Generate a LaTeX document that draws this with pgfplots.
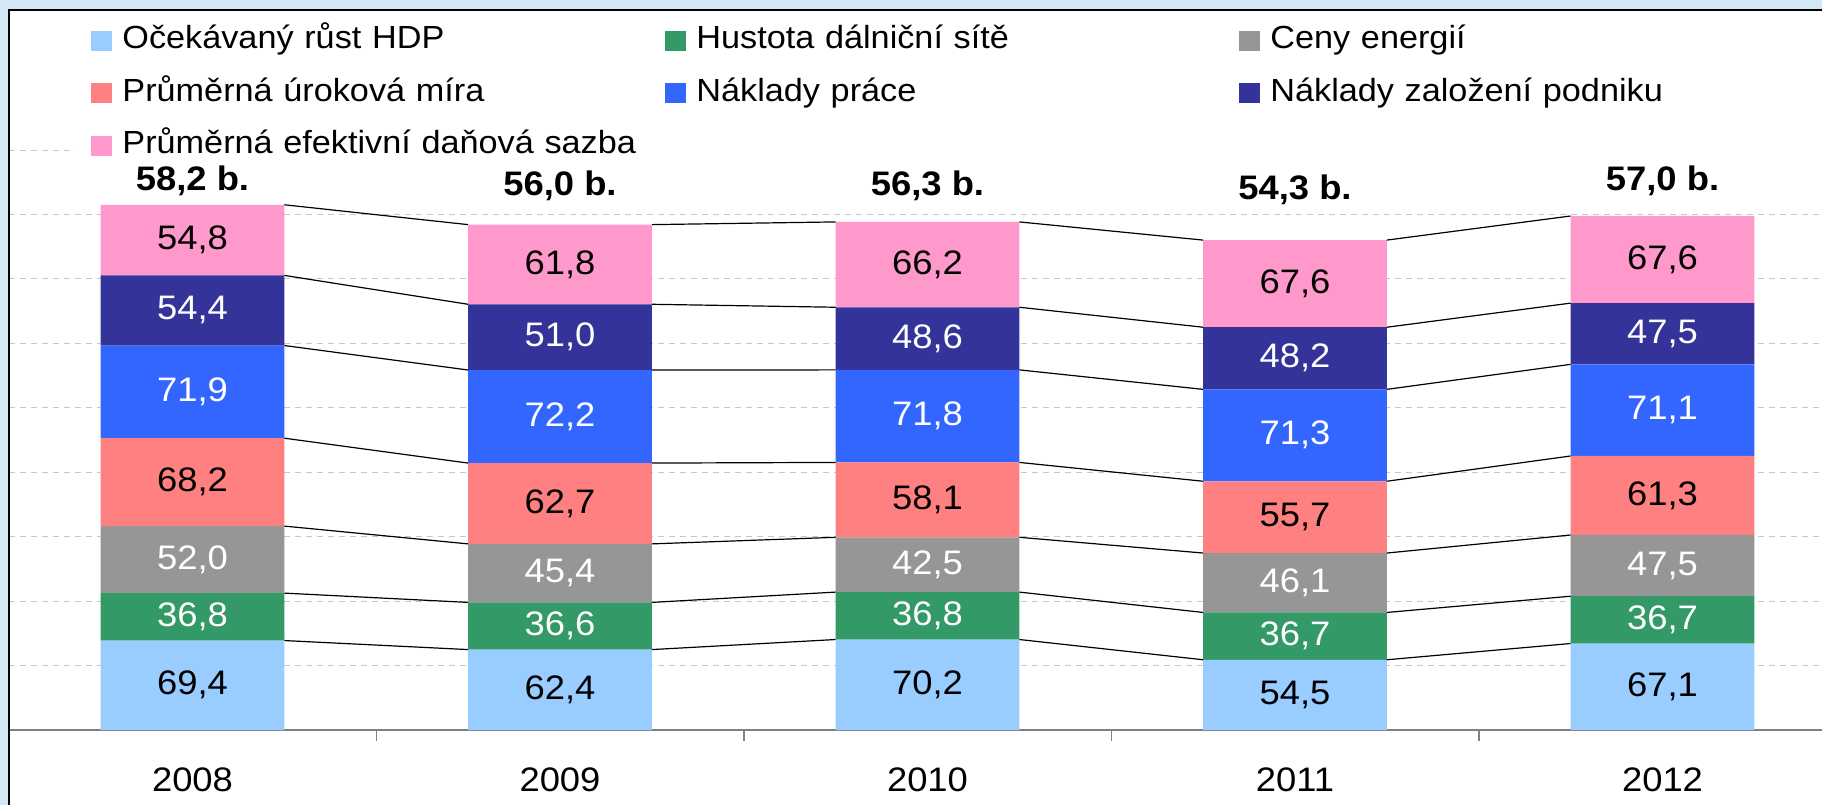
\documentclass[border=0pt]{standalone}
\usepackage{pgfplots}
\pgfplotsset{compat=1.18}
\usepackage{fontspec}
\setmainfont{Liberation Sans}[FakeStretch=1.07]

\definecolor{cHDP}{HTML}{99CCFF}
\definecolor{cDal}{HTML}{339966}
\definecolor{cEne}{HTML}{969696}
\definecolor{cUrok}{HTML}{FF8080}
\definecolor{cPrace}{HTML}{3366FF}
\definecolor{cZal}{HTML}{333399}
\definecolor{cDan}{HTML}{FF99CC}
\definecolor{bgblue}{HTML}{D2E8F4}
\definecolor{axgray}{HTML}{808080}

\newcommand\legfont{\fontsize{16pt}{19pt}\selectfont}
\newcommand\numfont{\fontsize{17pt}{20pt}\selectfont}

\pgfplotsset{
  sq legend/.style={legend image code/.code={%
      \fill[##1,draw=none] (0pt,-5pt) rectangle (10.5pt,5pt);
      \path (15.5pt,0pt);}},
  same frame/.style={at={(4.375pt,37.5pt)}, anchor=south west,
    width=906.625pt, height=290pt, scale only axis,
    xmin=-0.5, xmax=4.434, ymin=0, ymax=450},
  seglabel/.style={draw=none, mark=none, nodes near coords, point meta=explicit,
    nodes near coords style={font=\numfont, text=#1, anchor=center}},
}

\begin{document}
\begin{tikzpicture}
\fill[bgblue] (0,0) rectangle (911pt,402.5pt);
\fill[white] (4.375pt,0) rectangle (911pt,397.5pt);

% stacked bars, grid, axis, legend
\begin{axis}[same frame,
  ybar stacked, bar width=0.5,
  axis lines*=left,
  y axis line style={draw=none},
  x axis line style={draw=axgray, line width=1pt},
  xtick={0,1,2,3,4}, xticklabels={2008,2009,2010,2011,2012},
  minor xtick={-0.5,0.5,1.5,2.5,3.5},
  major tick length=0pt, minor tick length=5.5pt, tick align=outside,
  minor tick style={draw=axgray, line width=0.75pt},
  ytick={50,100,...,450}, yticklabels={},
  ymajorgrids,
  grid style={dash pattern=on 3pt off 2.5pt, black!22, line width=0.5pt},
  xticklabel style={font=\numfont, anchor=center, yshift=-25pt},
  legend columns=3, legend cell align=left,
  legend style={at={(0.03654,1.2164)}, anchor=north west, draw=none, fill=white,
    inner xsep=8pt, inner ysep=0pt, font=\legfont, row sep=10.25pt, column sep=0pt,
    nodes={inner sep=0pt, text height=12pt, text depth=4pt, text width=271.5pt}},
]
\addplot[fill=cHDP, draw=none, sq legend] coordinates {(0,69.4) (1,62.4) (2,70.2) (3,54.5) (4,67.1)};
\addplot[fill=cDal, draw=none, sq legend] coordinates {(0,36.8) (1,36.6) (2,36.8) (3,36.7) (4,36.7)};
\addplot[fill=cEne, draw=none, sq legend] coordinates {(0,52.0) (1,45.4) (2,42.5) (3,46.1) (4,47.5)};
\addplot[fill=cUrok, draw=none, sq legend] coordinates {(0,68.2) (1,62.7) (2,58.1) (3,55.7) (4,61.3)};
\addplot[fill=cPrace, draw=none, sq legend] coordinates {(0,71.9) (1,72.2) (2,71.8) (3,71.3) (4,71.1)};
\addplot[fill=cZal, draw=none, sq legend] coordinates {(0,54.4) (1,51.0) (2,48.6) (3,48.2) (4,47.5)};
\addplot[fill=cDan, draw=none, sq legend] coordinates {(0,54.8) (1,61.8) (2,66.2) (3,67.6) (4,67.6)};
\legend{Očekávaný růst HDP, Hustota dálniční sítě, Ceny energií,
  Průměrná úroková míra, Náklady práce, Náklady založení podniku,
  Průměrná efektivní daňová sazba}
\end{axis}

% series lines and value labels
\begin{axis}[same frame, hide axis, clip=false, unbounded coords=jump,
  /pgf/number format/.cd, fixed, fixed zerofill, precision=1, use comma,
  assume math mode=true]
\pgfplotsset{every axis plot/.append style={mark=none}}
% cumulative tops of each series, from bar edge to next bar edge
\addplot[black, line width=0.6pt] coordinates {(0.25,69.4) (0.75,62.4) (1,nan) (1.25,62.4) (1.75,70.2) (2,nan) (2.25,70.2) (2.75,54.5) (3,nan) (3.25,54.5) (3.75,67.1)};
\addplot[black, line width=0.6pt] coordinates {(0.25,106.2) (0.75,99.0) (1,nan) (1.25,99.0) (1.75,107.0) (2,nan) (2.25,107.0) (2.75,91.2) (3,nan) (3.25,91.2) (3.75,103.8)};
\addplot[black, line width=0.6pt] coordinates {(0.25,158.2) (0.75,144.4) (1,nan) (1.25,144.4) (1.75,149.5) (2,nan) (2.25,149.5) (2.75,137.3) (3,nan) (3.25,137.3) (3.75,151.3)};
\addplot[black, line width=0.6pt] coordinates {(0.25,226.4) (0.75,207.1) (1,nan) (1.25,207.1) (1.75,207.6) (2,nan) (2.25,207.6) (2.75,193.0) (3,nan) (3.25,193.0) (3.75,212.6)};
\addplot[black, line width=0.6pt] coordinates {(0.25,298.3) (0.75,279.3) (1,nan) (1.25,279.3) (1.75,279.4) (2,nan) (2.25,279.4) (2.75,264.3) (3,nan) (3.25,264.3) (3.75,283.7)};
\addplot[black, line width=0.6pt] coordinates {(0.25,352.7) (0.75,330.3) (1,nan) (1.25,330.3) (1.75,328.0) (2,nan) (2.25,328.0) (2.75,312.5) (3,nan) (3.25,312.5) (3.75,331.2)};
\addplot[black, line width=0.6pt] coordinates {(0.25,407.5) (0.75,392.1) (1,nan) (1.25,392.1) (1.75,394.2) (2,nan) (2.25,394.2) (2.75,380.1) (3,nan) (3.25,380.1) (3.75,398.8)};
% labels at segment middles
\addplot[seglabel=black] coordinates {(0,34.7)[69.4] (1,31.2)[62.4] (2,35.1)[70.2] (3,27.25)[54.5] (4,33.55)[67.1]};
\addplot[seglabel=white] coordinates {(0,87.8)[36.8] (1,80.7)[36.6] (2,88.6)[36.8] (3,72.85)[36.7] (4,85.45)[36.7]};
\addplot[seglabel=white] coordinates {(0,132.2)[52.0] (1,121.7)[45.4] (2,128.25)[42.5] (3,114.25)[46.1] (4,127.55)[47.5]};
\addplot[seglabel=black] coordinates {(0,192.3)[68.2] (1,175.75)[62.7] (2,178.55)[58.1] (3,165.15)[55.7] (4,181.95)[61.3]};
\addplot[seglabel=white] coordinates {(0,262.35)[71.9] (1,243.2)[72.2] (2,243.5)[71.8] (3,228.65)[71.3] (4,248.15)[71.1]};
\addplot[seglabel=white] coordinates {(0,325.5)[54.4] (1,304.8)[51.0] (2,303.7)[48.6] (3,288.4)[48.2] (4,307.45)[47.5]};
\addplot[seglabel=black] coordinates {(0,380.1)[54.8] (1,361.2)[61.8] (2,361.1)[66.2] (3,346.3)[67.6] (4,365.0)[67.6]};
% averages above the bars
\addplot[draw=none, point meta=explicit,
  nodes near coords={\pgfmathprintnumber{\pgfplotspointmeta}~b.},
  nodes near coords style={font=\numfont\bfseries, anchor=center}]
  coordinates {(0,426)[58.2] (1,422)[56.0] (2,422)[56.3] (3,419)[54.3] (4,426)[57.0]};
\end{axis}

\draw[black, line width=1pt] (4.375pt,0) -- (4.375pt,397.5pt) -- (911pt,397.5pt);
\pgfresetboundingbox
\useasboundingbox (0,0) rectangle (911pt,402.5pt);
\end{tikzpicture}
\end{document}
